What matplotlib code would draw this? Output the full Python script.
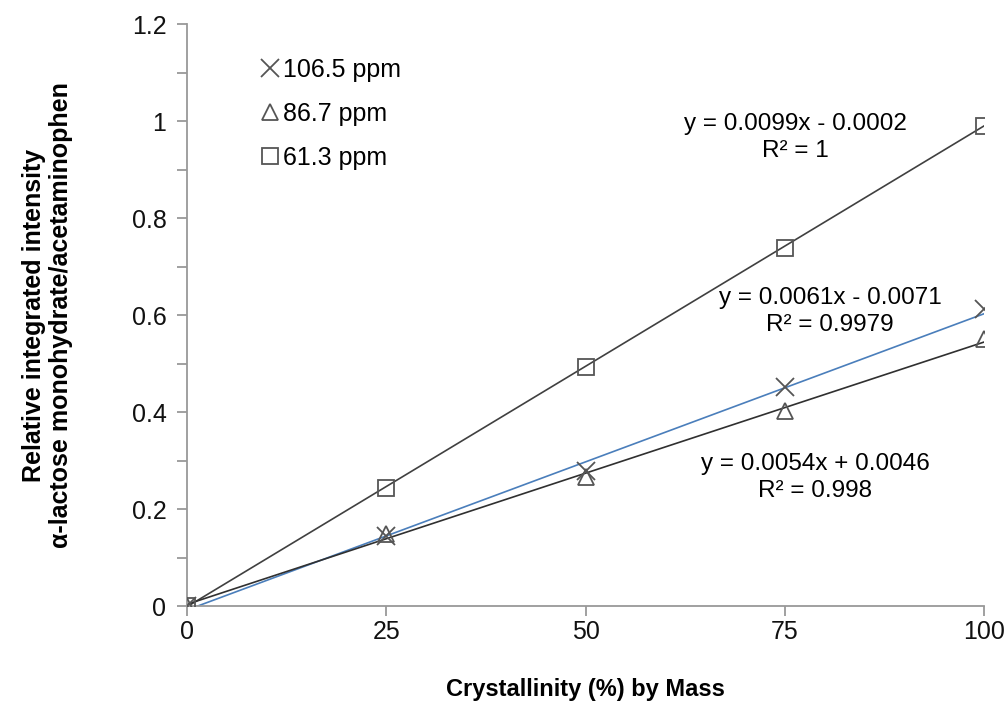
import matplotlib
matplotlib.use("Agg")
import matplotlib.pyplot as plt
import numpy as np
from matplotlib.ticker import MultipleLocator, FuncFormatter

plt.rcParams['font.family'] = ['Liberation Sans', 'DejaVu Sans']

# crystallinity (%) by mass
crystallinity = [0, 25, 50, 75, 100]

# relative integrated intensity for each peak
peak_106 = [0.0, 0.146, 0.280, 0.453, 0.612]
peak_86 = [0.0, 0.150, 0.266, 0.403, 0.551]
peak_61 = [0.0, 0.245, 0.493, 0.738, 0.990]

# trendline coefficients (slope, intercept) as printed in the chart
fit_106 = (0.0061, -0.0071)
fit_86 = (0.0054, 0.0046)
fit_61 = (0.0099, -0.0002)

eq_106 = "y = 0.0061x - 0.0071\nR² = 0.9979"
eq_86 = "y = 0.0054x + 0.0046\nR² = 0.998"
eq_61 = "y = 0.0099x - 0.0002\nR² = 1"

fig = plt.figure(figsize=(10.07, 7.06), dpi=100)
ax = fig.add_axes([0.186, 0.141, 0.791, 0.825])

xs = np.array([0, 100])
ax.plot(xs, fit_61[0] * xs + fit_61[1], color='#404040', lw=1.2, zorder=2)
ax.plot(xs, fit_106[0] * xs + fit_106[1], color='#4a7ebb', lw=1.2, zorder=2)
ax.plot(xs, fit_86[0] * xs + fit_86[1], color='#303030', lw=1.2, zorder=2)

mk = dict(ls='none', mfc='none', mec='#555555', mew=1.3, zorder=3)
ax.plot(crystallinity, peak_106, marker='x', ms=13, label='106.5 ppm', **mk)
ax.plot(crystallinity, peak_86, marker='^', ms=12, label='86.7 ppm', **mk)
ax.plot(crystallinity, peak_61, marker='s', ms=12, label='61.3 ppm', **mk)

ax.set_xlim(0, 100)
ax.set_ylim(0, 1.2)
ax.set_xticks([0, 25, 50, 75, 100])
ax.yaxis.set_major_locator(MultipleLocator(0.2))
ax.yaxis.set_minor_locator(MultipleLocator(0.1))
ax.yaxis.set_major_formatter(FuncFormatter(lambda v, p: ('%.1f' % v).rstrip('0').rstrip('.')))

for s in ['top', 'right']:
    ax.spines[s].set_visible(False)
for s in ['left', 'bottom']:
    ax.spines[s].set_color('#999999')
    ax.spines[s].set_linewidth(1.3)
ax.tick_params(which='both', direction='out', color='#999999', width=1.3,
               labelsize=18, labelcolor='#111111')
ax.tick_params(which='major', length=7)
ax.tick_params(which='minor', length=7)
ax.tick_params(axis='y', pad=8)
ax.tick_params(axis='x', pad=3)

ax.set_xlabel('Crystallinity (%) by Mass', fontsize=17, fontweight='bold',
              labelpad=24)
ax.set_ylabel('Relative integrated intensity\nα-lactose monohydrate/acetaminophen',
              fontsize=18, fontweight='bold', labelpad=42, linespacing=1.15)

ax.text(76.3, 0.967, eq_61, ha='center', va='center', fontsize=17.5, linespacing=1.3)
ax.text(80.7, 0.608, eq_106, ha='center', va='center', fontsize=17.5, linespacing=1.3)
ax.text(78.8, 0.266, eq_86, ha='center', va='center', fontsize=17.5, linespacing=1.3)

leg = ax.legend(loc='upper left', bbox_to_anchor=(0.065, 0.98), frameon=False,
                fontsize=18, handlelength=0.7, handletextpad=0.15,
                labelspacing=0.8, markerscale=0.95)

fig.savefig('out.png', dpi=100)
